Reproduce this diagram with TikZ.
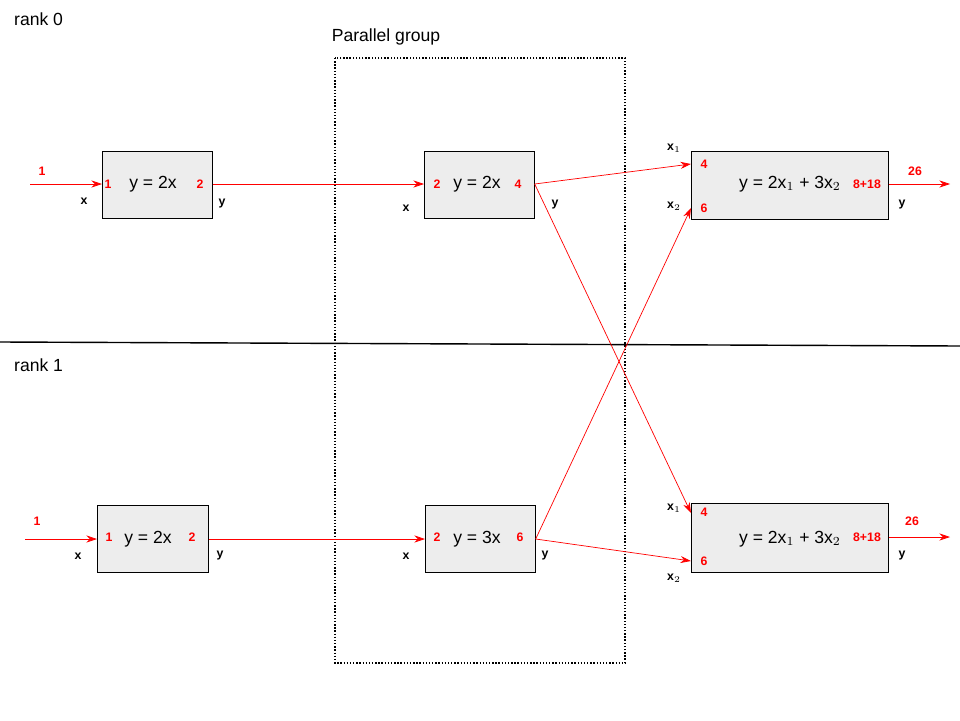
\documentclass[tikz,border=0pt]{standalone}
\usepackage{fontspec}
\setmainfont{Liberation Sans}
\usetikzlibrary{arrows.meta,calc}
\tikzset{
	block/.style={draw, fill=black!7, anchor=north west, inner sep=0pt},
	port/.style={text=red, font=\bfseries\scriptsize, inner sep=1pt},
	pin/.style={font=\bfseries\scriptsize, inner sep=1pt},
	wire/.style={red, -{Stealth[length=6pt,width=4pt]}}
}
\begin{document}
\begin{tikzpicture}[x=0.02cm, y=-0.02cm]
	\useasboundingbox (0,0) rectangle (960,720);
	% boxes
	\node [block, minimum width=2.2cm, minimum height=1.34cm] (a0) at (102,151) {};
	\node [block, minimum width=2.2cm, minimum height=1.34cm] (b0) at (424,151) {};
	\node [block, minimum width=3.94cm, minimum height=1.36cm] (c0) at (691,151) {};
	\node [block, minimum width=2.22cm, minimum height=1.34cm] (a1) at (97,505) {};
	\node [block, minimum width=2.2cm, minimum height=1.34cm] (b1) at (425,505) {};
	\node [block, minimum width=3.94cm, minimum height=1.38cm] (c1) at (691,503) {};
	\node (ta0) at (153,184) {y = 2x};
	\node (tb0) at (477,184) {y = 2x};
	\node (tc0) at (790,184) {y = 2x$_1$ + 3x$_2$};
	\node (ta1) at (148,539) {y = 2x};
	\node (tb1) at (477,539) {y = 3x};
	\node (tc1) at (790,539) {y = 2x$_1$ + 3x$_2$};
	% ranks
	\node [anchor=west] (r0) at (8,19) {rank 0};
	\node [anchor=west] (r1) at (8,365) {rank 1};
	\coordinate (ll) at (0,342);
	\coordinate (lr) at (960,346);
	\draw [thick] (ll) -- (lr);
	\node (pg) at (386,37) {Parallel group};
	\draw [densely dotted, thick] (335,58) rectangle (625,663);
	% ports
	\node [port] at (108,184) {1};  \node [port] at (200,184) {2};
	\node [port] at (437,184) {2};  \node [port] at (518,184) {4};
	\node [port] at (704,164) {4};  \node [port] at (704,208) {6};
	\node [port] at (867,184) {8+18};
	\node [port] at (109,537) {1};  \node [port] at (192,537) {2};
	\node [port] at (437,537) {2};  \node [port] at (520,537) {6};
	\node [port] at (704,512) {4};  \node [port] at (704,561) {6};
	\node [port] at (867,537) {8+18};
	\node [port] at (42,171) {1};   \node [port] at (915,171) {26};
	\node [port] at (37,521) {1};   \node [port] at (912,521) {26};
	% pin names
	\node [pin] at (84,201) {x};   \node [pin] at (222,204) {y};
	\node [pin] at (406,208) {x};  \node [pin] at (555,205) {y};
	\node [pin] at (674,148) {x$_1$}; \node [pin] at (674,206) {x$_2$};
	\node [pin] at (902,205) {y};
	\node [pin] at (78,556) {x};   \node [pin] at (220,556) {y};
	\node [pin] at (406,556) {x};  \node [pin] at (545,556) {y};
	\node [pin] at (674,508) {x$_1$}; \node [pin] at (674,578) {x$_2$};
	\node [pin] at (902,556) {y};
	% wires
	\coordinate (in0) at (30,184);  \coordinate (out0) at (950,184);
	\coordinate (in1) at (25,539);  \coordinate (out1) at (950,537);
	\draw [wire] (in0) -- (a0.west |- 0,184);
	\draw [wire] (in1) -- (a1.west |- 0,539);
	\draw [wire] (a0.east |- 0,184) -- (b0.west |- 0,184);
	\draw [wire] (a1.east |- 0,539) -- (b1.west |- 0,539);
	\draw [wire] (b0.east |- 0,184) -- (c0.west |- 0,164);
	\draw [wire] (b0.east |- 0,184) -- (c1.west |- 0,513);
	\draw [wire] (b1.east |- 0,539) -- (c0.west |- 0,208);
	\draw [wire] (b1.east |- 0,539) -- (c1.west |- 0,561);
	\draw [wire] (c0.east |- 0,184) -- (out0);
	\draw [wire] (c1.east |- 0,537) -- (out1);
\end{tikzpicture}
\end{document}
